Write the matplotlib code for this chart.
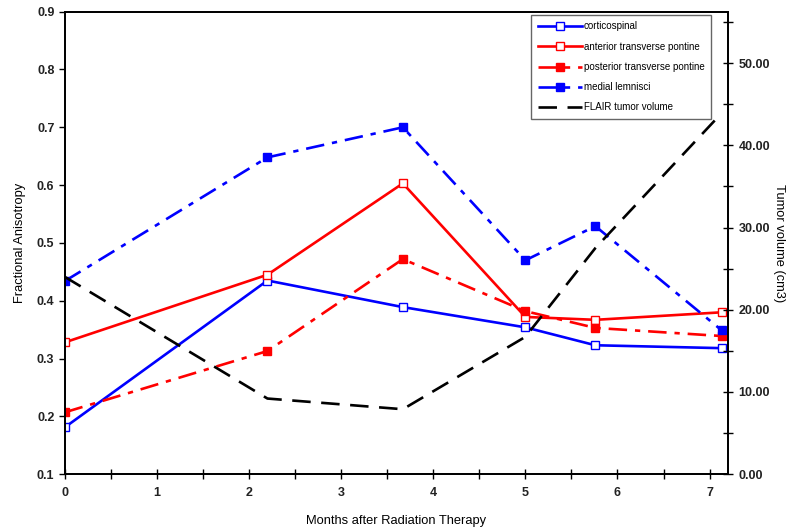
import matplotlib
matplotlib.use("Agg")
import matplotlib.pyplot as plt
from matplotlib.ticker import MultipleLocator, FormatStrFormatter

plt.rcParams["font.family"] = ["Liberation Sans", "DejaVu Sans"]

# data
months = [0, 2.2, 3.67, 5.0, 5.76, 7.13]
corticospinal = [0.181, 0.435, 0.389, 0.354, 0.323, 0.318]
anterior_tp = [0.328, 0.445, 0.603, 0.372, 0.367, 0.380]
posterior_tp = [0.207, 0.313, 0.472, 0.382, 0.353, 0.339]
medial_lemnisci = [0.434, 0.648, 0.700, 0.470, 0.529, 0.349]
flair_volume = [24.0, 9.2, 7.9, 16.7, 27.5, 43.9]

fig = plt.figure(figsize=(8, 5.31), dpi=100)
ax = fig.add_axes([0.081, 0.107, 0.829, 0.871])
ax2 = ax.twinx()

lw = 1.9
ms = 5.5
l1, = ax.plot(months, corticospinal, color="blue", lw=lw, marker="s", ms=ms,
              mfc="white", mec="blue", mew=1.0, label="corticospinal")
l2, = ax.plot(months, anterior_tp, color="red", lw=lw, marker="s", ms=ms,
              mfc="white", mec="red", mew=1.0, label="anterior transverse pontine")
l3, = ax.plot(months, posterior_tp, color="red", lw=lw, marker="s", ms=ms,
              mfc="red", mec="red", dashes=(7, 3, 2, 3),
              label="posterior transverse pontine")
l4, = ax.plot(months, medial_lemnisci, color="blue", lw=lw, marker="s", ms=ms,
              mfc="blue", mec="blue", dashes=(7, 3, 2, 3), label="medial lemnisci")
l5, = ax2.plot(months, flair_volume, color="black", lw=lw, dashes=(7, 4),
               label="FLAIR tumor volume")

ax.set_xlim(0, 7.2)
ax.set_ylim(0.1, 0.9)
ax2.set_ylim(0, 56.25)

ax.xaxis.set_major_locator(MultipleLocator(1))
ax.xaxis.set_minor_locator(MultipleLocator(0.5))
ax.yaxis.set_major_locator(MultipleLocator(0.1))
ax2.yaxis.set_major_locator(MultipleLocator(10))
ax2.yaxis.set_minor_locator(MultipleLocator(5))
ax2.yaxis.set_major_formatter(FormatStrFormatter("%.2f"))

ax.tick_params(axis="x", which="both", direction="inout", length=7, width=1,
               labelsize=9, pad=6)
ax.tick_params(axis="y", direction="out", length=4, width=1, labelsize=9)
ax2.tick_params(axis="y", which="both", direction="inout", length=7, width=1,
                labelsize=9, pad=4)
for lab in ax.get_xticklabels() + ax.get_yticklabels() + ax2.get_yticklabels():
    lab.set_fontweight("bold")
    lab.set_color("#222222")

for a in (ax, ax2):
    for s in a.spines.values():
        s.set_linewidth(1.3)

ax.set_xlabel("Months after Radiation Therapy", fontsize=9.3, labelpad=11)
ax.set_ylabel("Fractional Anisotropy", fontsize=9.3, labelpad=8)
ax2.set_ylabel("Tumor volume (cm3)", fontsize=9.3, rotation=270, labelpad=11)

leg = ax2.legend(handles=[l1, l2, l3, l4, l5], loc="upper right",
                 bbox_to_anchor=(0.982, 1.004), fontsize=7, frameon=True,
                 fancybox=False, edgecolor="#666666", framealpha=1,
                 labelspacing=1.05, handlelength=4.5, handletextpad=0.2,
                 borderpad=0.7)
leg.get_frame().set_linewidth(1.0)

fig.savefig("out.png", dpi=100)
